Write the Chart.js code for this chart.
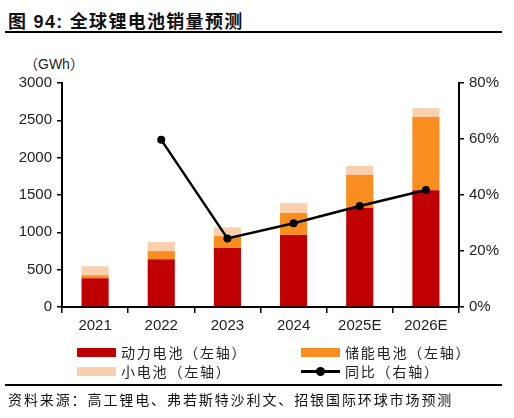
<!DOCTYPE html>
<html>
<head>
<meta charset="utf-8">
<script src="https://cdn.jsdelivr.net/npm/chart.js@4"></script>
<style>
  html, body { margin: 0; padding: 0; background: #fff; }
  body { width: 514px; height: 418px; position: relative; overflow: hidden;
         font-family: "Liberation Sans", Arial, "Noto Sans CJK SC", sans-serif; color: #111; }
  #title { position: absolute; left: 8px; top: 7px; font-size: 18px; font-weight: bold;
           letter-spacing: 1.3px; font-family: "Liberation Sans", "Noto Sans CJK SC", sans-serif; }
  .rule { position: absolute; left: 5px; width: 497px; height: 2px; background: #000; }
  #unit { position: absolute; left: 24px; top: 53px; font-size: 14px; color: #222;
          font-family: "Noto Sans CJK SC", sans-serif; }
  #unit span { font-family: "Liberation Sans", sans-serif; }
  #chart { position: absolute; left: 0; top: 0; }
  .lg { position: absolute; font-size: 14px; letter-spacing: 1.8px; color: #222;
        font-family: "Noto Sans CJK SC", sans-serif; line-height: 18px; }
  .sw { position: absolute; width: 39px; height: 9px; }
  #source { position: absolute; left: 8px; top: 389px; font-size: 14px; letter-spacing: 1.9px;
            color: #111; font-family: "Noto Sans CJK SC", sans-serif; }
</style>
</head>
<body>
<div id="title">图 94: 全球锂电池销量预测</div>
<div class="rule" style="top:31px"></div>
<div id="unit">（<span>GWh</span>）</div>
<canvas id="chart" width="514" height="418"></canvas>
<div id="legend"></div>
<div class="rule" style="top:384px"></div>
<div id="source">资料来源：高工锂电、弗若斯特沙利文、招银国际环球市场预测</div>

<script>
// data
const years = ['2021', '2022', '2023', '2024', '2025E', '2026E'];
const powerGWh = [385, 640, 790, 965, 1330, 1565];
const storageGWh = [40, 108, 160, 295, 440, 980];
const smallGWh = [120, 121, 117, 130, 120, 117];
const yoyPct = [null, 59.7, 24.5, 29.9, 36.1, 41.8];
const leftTicks = [0, 500, 1000, 1500, 2000, 2500, 3000];
const rightTicks = [0, 20, 40, 60, 80];

const RED = '#C00000';
const ORANGE = '#F98D1F';
const PEACH = '#F9CFAD';

const barCommon = { yAxisID: 'y', stack: 'gwh', order: 1, categoryPercentage: 1, barPercentage: 0.41 };

const datasets = [
  { ...barCommon, type: 'bar', label: '动力电池（左轴）', data: powerGWh, backgroundColor: RED },
  { ...barCommon, type: 'bar', label: '储能电池（左轴）', data: storageGWh, backgroundColor: ORANGE },
  { ...barCommon, type: 'bar', label: '小电池（左轴）', data: smallGWh, backgroundColor: PEACH },
  {
    type: 'line', label: '同比（右轴）', data: yoyPct, yAxisID: 'y1', order: 0,
    borderColor: '#000', backgroundColor: '#000', borderWidth: 2.5,
    pointRadius: 4, pointBackgroundColor: '#000', pointBorderWidth: 0, tension: 0,
  },
];

const tickFont = { family: '"Liberation Sans", Arial, sans-serif', size: 15 };

new Chart(document.getElementById('chart'), {
  data: { labels: years, datasets },
  options: {
    responsive: false,
    animation: false,
    devicePixelRatio: 1,
    layout: { padding: { top: 83, left: 0, right: 0, bottom: 81 } },
    plugins: { legend: { display: false }, tooltip: { enabled: false } },
    scales: {
      x: {
        offset: true,
        grid: { drawOnChartArea: false, drawTicks: true, tickLength: 6, color: '#000', lineWidth: 1.5, offset: true },
        border: { color: '#000', width: 2 },
        ticks: { color: '#222', font: tickFont, padding: 4, maxRotation: 0 },
        afterFit: (s) => { s.height = 30; },
      },
      y: {
        position: 'left',
        min: 0,
        max: 3000,
        afterBuildTicks: (s) => { s.ticks = leftTicks.map((v) => ({ value: v })); },
        grid: { drawOnChartArea: false, drawTicks: true, tickLength: 5, color: '#000', lineWidth: 1.5 },
        border: { color: '#000', width: 2 },
        ticks: { color: '#222', font: tickFont, padding: 5, callback: (v) => String(v) },
        afterFit: (s) => { s.width = 62; },
      },
      y1: {
        position: 'right',
        min: 0,
        max: 80,
        afterBuildTicks: (s) => { s.ticks = rightTicks.map((v) => ({ value: v })); },
        grid: { drawOnChartArea: false, drawTicks: true, tickLength: 5, color: '#000', lineWidth: 1.5 },
        border: { color: '#000', width: 2 },
        ticks: { color: '#222', font: tickFont, padding: 5, callback: (v) => `${v}%` },
        afterFit: (s) => { s.width = 55; },
      },
    },
  },
});

// HTML legend built from the datasets, two columns
const legendSlots = [
  { x: 77, y: 343 }, { x: 301, y: 343 },
  { x: 77, y: 362 }, { x: 301, y: 362 },
];
const legend = document.getElementById('legend');
datasets.forEach((ds, i) => {
  const slot = legendSlots[i];
  const sw = document.createElement('div');
  sw.className = 'sw';
  sw.style.left = `${slot.x}px`;
  if (ds.type === 'line') {
    sw.style.top = `${slot.y + 8}px`;
    sw.style.height = '2.5px';
    sw.style.background = '#000';
    const dot = document.createElement('div');
    dot.style.cssText = 'position:absolute;left:15px;top:-3px;width:9px;height:9px;border-radius:50%;background:#000';
    sw.appendChild(dot);
  } else {
    sw.style.top = `${slot.y + 5}px`;
    sw.style.background = ds.backgroundColor;
  }
  legend.appendChild(sw);

  const txt = document.createElement('div');
  txt.className = 'lg';
  txt.style.left = `${slot.x + 44}px`;
  txt.style.top = `${slot.y}px`;
  txt.textContent = ds.label;
  legend.appendChild(txt);
});
</script>
</body>
</html>
